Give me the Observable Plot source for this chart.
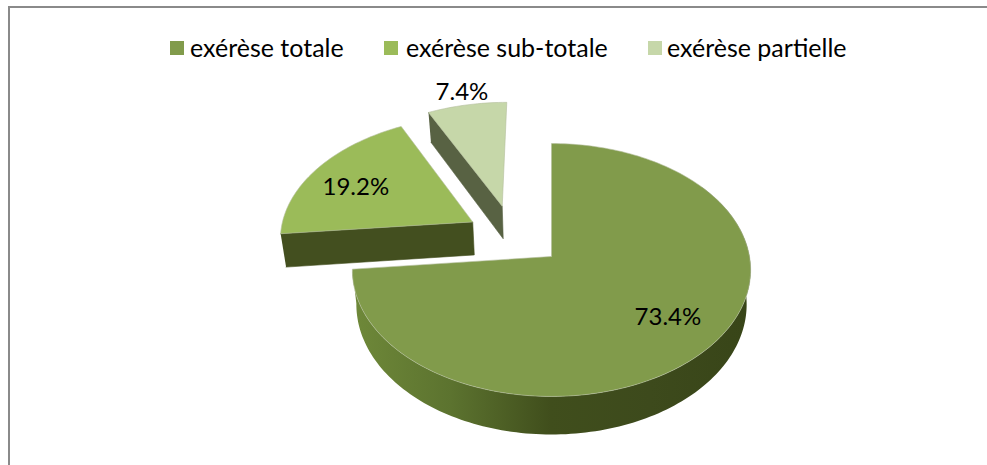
<!DOCTYPE html>
<html><head><meta charset="utf-8">
<script src="https://cdn.jsdelivr.net/npm/d3@7"></script>
<script src="https://cdn.jsdelivr.net/npm/@observablehq/plot@0.6"></script>
<style>
html,body{margin:0;padding:0;background:#fff;overflow:hidden;width:987px;height:465px}
#frame{position:absolute;left:8px;top:6px;width:979px;height:459px;box-sizing:border-box;border-left:2px solid #8a8a8a;border-top:2px solid #8a8a8a}
#page{position:relative;width:987px;font-family:Lato,sans-serif;color:#000}
#legend{position:relative;height:68px}
.it{position:absolute;top:32px;font-size:25px;line-height:30px;white-space:nowrap}
.sw{position:absolute;top:41px;width:14px;height:14px}
#chart svg{display:block}
</style></head><body>
<div id="frame"></div>
<div id="page"><div id="legend"></div><div id="chart"></div></div>
<script>
const categories = ["exérèse totale","exérèse sub-totale","exérèse partielle"];
const values = [73.4,19.2,7.4];
const topColors = ["#819b4b","#9bbb59","#c6d7a9"];
const wallColors = ["#3f4d1c","#434f1f","#586243"];
const explode = [[0,0],[-0.41,-0.285],[-0.26,-0.42]];
const radiusScale = [1,0.99,1];
const labelOffset = [[0.56,0.448],[-0.642,-0.32],[-0.267,-1.129]];
const legendSwatchX = [170,384,648], legendTextX = [190,406,667];

// Disc projection
const cx=551, cy=256, rx=198, ry=125, k=0.1067, depth=34, shrink=0.98;
const proj=(u,v,low=false)=>{const d=1-k*v;let x=cx+rx*u/d,y=cy+ry*v/d;
  if(low){x=cx+(x-cx)*shrink;y+=depth/d;}return [x,y];};
const total=d3.sum(values);
let acc=0;
const slices=values.map((val,i)=>{const a0=acc/total*2*Math.PI;acc+=val;const a1=acc/total*2*Math.PI;return {i,a0,a1,ex:explode[i],r:radiusScale[i]};});
const rim=(s,a,low)=>proj(s.ex[0]+s.r*Math.sin(a),s.ex[1]-s.r*Math.cos(a),low);
const apex=(s,low)=>proj(s.ex[0],s.ex[1],low);
const polys=[];
const add=(id,pts,color)=>pts.forEach(p=>polys.push({id,x:p[0],y:p[1],color}));
// walls
const s1=slices[1],s2=slices[2];
add("w1",[rim(s1,s1.a0),apex(s1),apex(s1,true),rim(s1,s1.a0,true)],wallColors[1]);
add("w2",[rim(s2,s2.a0),apex(s2),apex(s2,true),rim(s2,s2.a0,true)],wallColors[2]);
// main wall: a single outline filled with a horizontal gradient
const m=slices[0];
const wallPts=[];
const n=160,startA=Math.PI*0.3;
for(let j=0;j<=n;j++)wallPts.push(rim(m,startA+(m.a1-startA)*j/n));
for(let j=n;j>=0;j--)wallPts.push(rim(m,startA+(m.a1-startA)*j/n,true));
const wallData=wallPts.map(p=>({x:p[0],y:p[1]}));
const gradStops=[[355,"#6e8839"],[450,"#5c732f"],[550,"#404e1c"],[650,"#3d4a1c"],[752,"#384518"]];
// tops
const tops=[];
slices.forEach(s=>{const pts=[apex(s)];const N=Math.ceil((s.a1-s.a0)*40);
  for(let j=0;j<=N;j++)pts.push(rim(s,s.a0+(s.a1-s.a0)*j/N));pts.push(apex(s));
  pts.forEach(p=>tops.push({id:"t"+s.i,x:p[0],y:p[1],color:topColors[s.i]}));});
const labels=slices.map(s=>{const [lu,lv]=labelOffset[s.i];
  const p=proj(s.ex[0]+lu,s.ex[1]+lv);
  return {x:p[0],y:p[1],t:values[s.i].toFixed(1)+"%"};});

const legend=document.getElementById("legend");
categories.forEach((c,i)=>{
  const sw=document.createElement("div");sw.className="sw";sw.style.left=legendSwatchX[i]+"px";sw.style.background=topColors[i];legend.appendChild(sw);
  const t=document.createElement("div");t.className="it";t.style.left=legendTextX[i]+"px";t.textContent=c;legend.appendChild(t);
});

const defs=()=>{const s=d3.create("svg:defs");
  const g=s.append("linearGradient").attr("id","wall").attr("gradientUnits","userSpaceOnUse")
    .attr("x1",gradStops[0][0]).attr("x2",gradStops[gradStops.length-1][0]).attr("y1",0).attr("y2",0);
  const x0=gradStops[0][0],x1=gradStops[gradStops.length-1][0];
  gradStops.forEach(([x,c])=>g.append("stop").attr("offset",(x-x0)/(x1-x0)).attr("stop-color",c));
  return s.node();};

const plot=Plot.plot({
  width:987,height:397,margin:0,
  x:{domain:[0,987],range:[0,987],axis:null},
  y:{domain:[68,465],range:[0,397],axis:null},
  color:{type:"identity"},
  style:{background:"transparent"},
  marks:[
    defs,
    Plot.line(polys,{x:"x",y:"y",z:"id",fill:"color",stroke:"color",strokeWidth:0.6,curve:"linear"}),
    Plot.line(wallData,{x:"x",y:"y",fill:"url(#wall)",stroke:"none",curve:"linear"}),
    Plot.line(tops,{x:"x",y:"y",z:"id",fill:"color",stroke:"#b4bd9c",strokeWidth:0.6,curve:"linear"}),
    Plot.text(labels,{x:"x",y:"y",dy:2,text:"t",fontSize:24,fontFamily:"Lato,sans-serif",fill:"#000",textAnchor:"middle"})
  ]
});
document.getElementById("chart").appendChild(plot);
</script>
</body></html>
